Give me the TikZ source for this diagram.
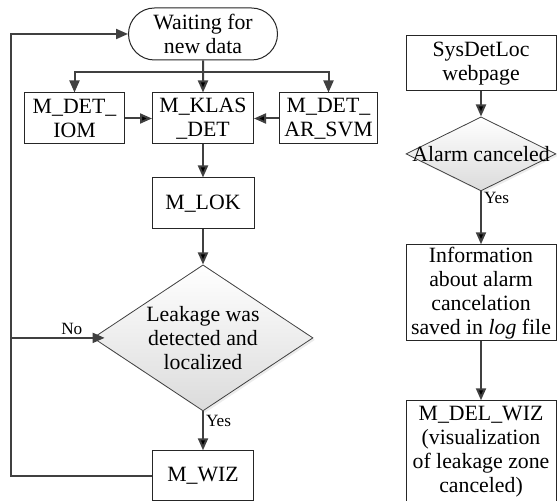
\documentclass[tikz,border=0pt]{standalone}
\usepackage{fontspec}
\setmainfont{Liberation Serif}
\usetikzlibrary{arrows.meta,positioning,shapes.geometric,shapes.misc,shadows}

\begin{document}
\begin{tikzpicture}[x=0.5pt,y=-0.5pt]
	\tikzset{block/.style={draw=black!85,line width=0.5pt,fill=white,align=center,inner sep=1pt,font=\fontsize{10.9pt}{12pt}\selectfont},
		txt/.style={block,draw=none,fill=none},
		cond/.style={diamond,draw=black!75,line width=0.4pt,top color=white,bottom color=black!14,inner sep=0pt,
			drop shadow={opacity=0.15,shadow xshift=1pt,shadow yshift=-1pt}},
		flow/.style={draw=black!75,line width=1pt,-{Triangle[length=6pt,width=5pt]}},
		tag/.style={font=\fontsize{8.6pt}{10pt}\selectfont,inner sep=1pt}}
	\useasboundingbox (0,0) rectangle (557,501);
	% main loop
	\node [block, rounded rectangle, minimum width=76.5pt, minimum height=26pt] (wait) at (203,34) {Waiting for\\new data};
	\node [block, below=16pt of wait, minimum width=50.5pt, minimum height=25.5pt] (klas) {M\_KLAS\\\_DET};
	\node [block, left=13.5pt of klas, minimum width=50pt, minimum height=25.5pt] (iom) {M\_DET\_\\IOM};
	\node [block, right=12.5pt of klas, minimum width=49pt, minimum height=25.5pt] (svm) {M\_DET\_\\AR\_SVM};
	\node [block, below=16.5pt of klas, minimum width=51pt, minimum height=25.5pt] (lok) {M\_LOK};
	\node [cond, below=17.5pt of lok, minimum width=110pt, minimum height=73pt,
		label={[txt]center:Leakage was\\detected and\\localized}] (dec) {};
	\node [block, below=19.5pt of dec, minimum width=50.5pt, minimum height=25pt] (wiz) {M\_WIZ};
	\coordinate [below=6pt of wait.south] (split);
	\coordinate [left=58.5pt of wait.west] (fb);
	\coordinate [right=6pt of dec.west] (noend);
	\path[flow] (wait) edge (klas)
			(iom) edge (klas)
			(svm) edge (klas)
			(klas) edge (lok)
			(lok) edge (dec)
			(dec) edge node[tag,right,pos=0.25] {Yes} (wiz);
	\draw[flow] (split) -| (iom.north);
	\draw[flow] (split) -| (svm.north);
	\draw[flow] (noend -| fb) -- node[tag,above,pos=0.65] {No} (noend);
	\draw[flow] (wiz.west) -| (fb) -- (wait.west);
	% cancel branch
	\node [block, minimum width=75pt, minimum height=27.5pt] (sys) at (481,63.5) {SysDetLoc\\webpage};
	\node [cond, below=12.5pt of sys, minimum width=75pt, minimum height=37pt,
		label={[txt]center:Alarm canceled}] (alarm) {};
	\node [block, below=26.5pt of alarm, minimum width=75pt, minimum height=46.5pt] (info) {Information\\about alarm\\cancelation\\saved in \textit{log} file};
	\node [block, below=29.5pt of info, minimum width=75pt, minimum height=51pt] (delwiz) {M\_DEL\_WIZ\\(visualization\\of leakage zone\\canceled)};
	\path[flow] (sys) edge (alarm)
			(alarm) edge node[tag,right,pos=0.12] {Yes} (info)
			(info) edge (delwiz);
\end{tikzpicture}
\end{document}
